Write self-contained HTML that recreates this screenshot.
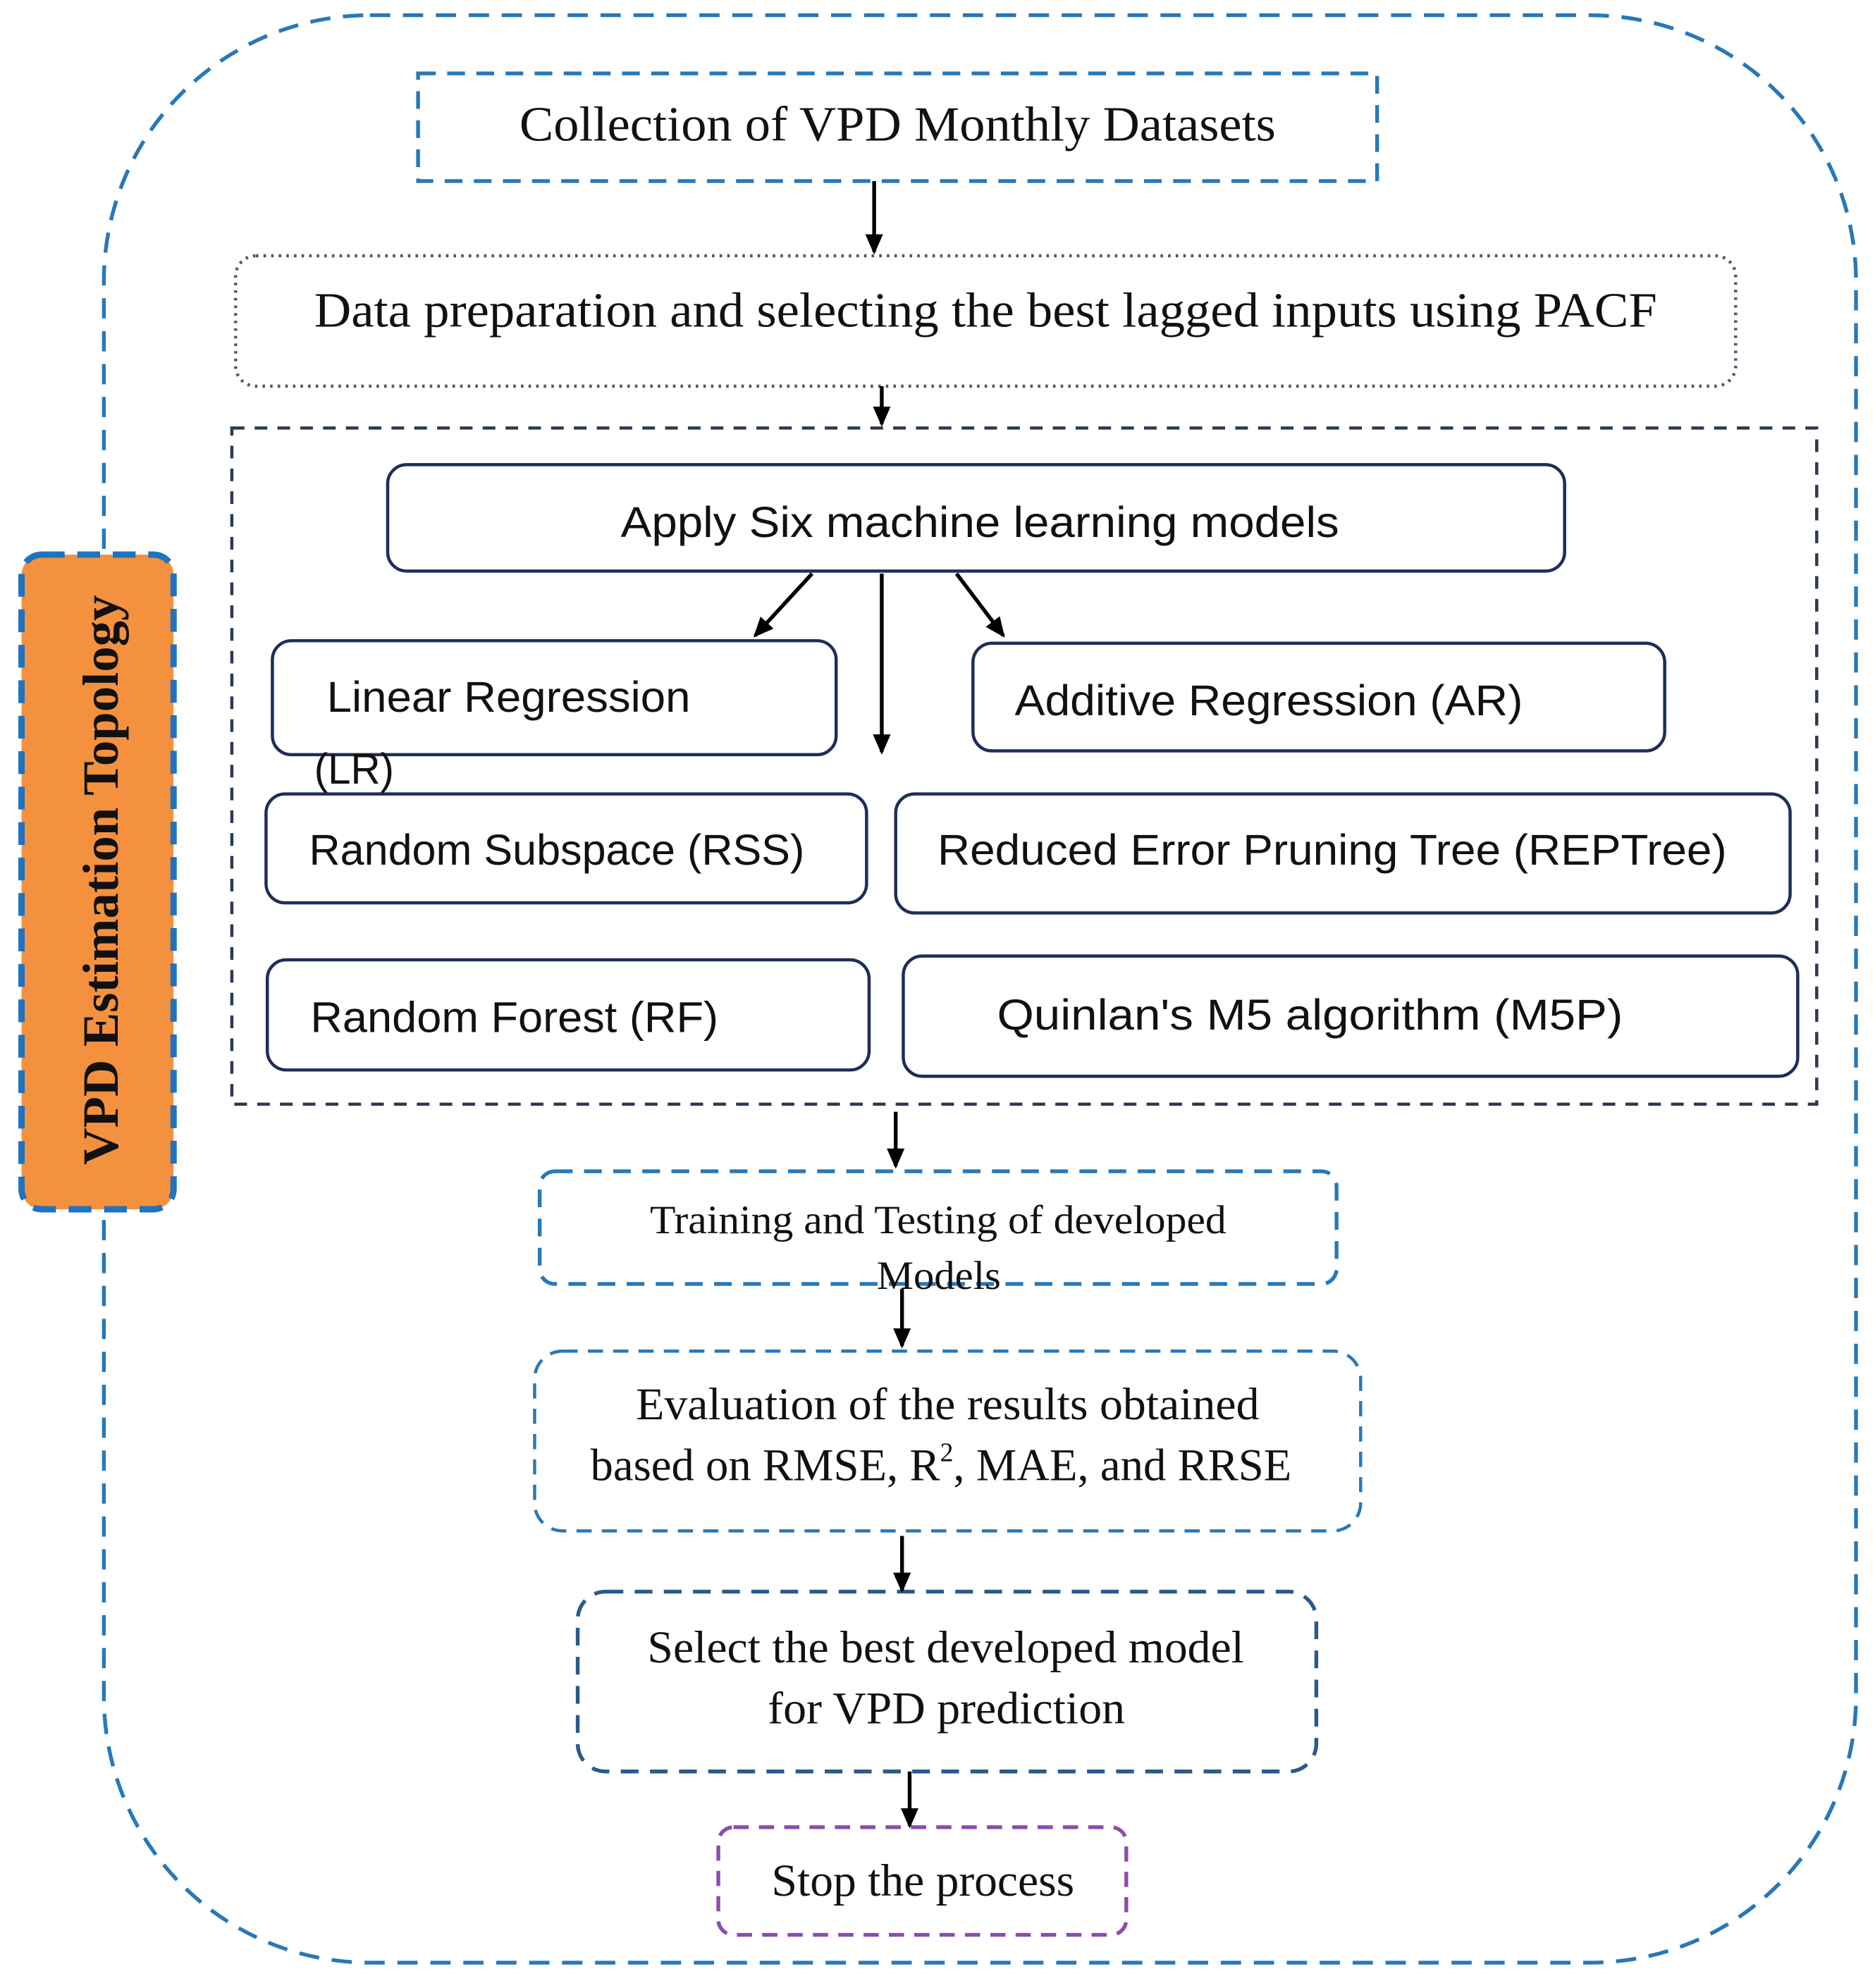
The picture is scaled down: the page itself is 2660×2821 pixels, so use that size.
<!DOCTYPE html>
<html><head><meta charset="utf-8"><style>html,body{margin:0;padding:0;background:#fff}svg{display:block}</style></head>
<body>
<svg width="2660" height="2821" viewBox="0 0 1480 1570" preserveAspectRatio="none" xmlns="http://www.w3.org/2000/svg">
<defs><marker id="b" markerWidth="16" markerHeight="14" refX="14" refY="7" orient="auto" markerUnits="userSpaceOnUse"><path d="M0,0 L16,7 L0,14 z" fill="#000"/></marker></defs>
<rect x="82" y="12" width="1383" height="1538" rx="210" fill="none" stroke="#2878b8" stroke-width="3" stroke-dasharray="16,10"/>
<rect x="17" y="438" width="120" height="517" rx="16" fill="#f4913f" stroke="#1f73c0" stroke-width="5" stroke-dasharray="18,10"/>
<text transform="translate(93,920) rotate(-90)" textLength="450" lengthAdjust="spacingAndGlyphs" font-family="Liberation Serif,serif" font-weight="bold" font-size="40" fill="#111">VPD Estimation Topology</text>
<g font-family="Liberation Serif,serif" fill="#111" lengthAdjust="spacingAndGlyphs">
<rect x="330" y="58" width="757" height="85" fill="none" stroke="#2878b8" stroke-width="3" stroke-dasharray="14,9"/>
<text x="410" y="111" font-size="39" textLength="597" lengthAdjust="spacingAndGlyphs">Collection of VPD Monthly Datasets</text>
<rect x="186" y="202" width="1184" height="103" rx="16" fill="none" stroke="#4a5a70" stroke-width="2.5" stroke-dasharray="2,4"/>
<text x="248" y="258" font-size="39" textLength="1060" lengthAdjust="spacingAndGlyphs">Data preparation and selecting the best lagged inputs using PACF</text>
<rect x="426" y="925" width="629" height="89" rx="12" fill="none" stroke="#2878b8" stroke-width="3" stroke-dasharray="14,9"/>
<text x="513" y="974" font-size="32" textLength="455" lengthAdjust="spacingAndGlyphs">Training and Testing of developed</text>
<text x="692" y="1018" font-size="32" textLength="98" lengthAdjust="spacingAndGlyphs">Models</text>
<rect x="422" y="1067" width="652" height="142" rx="22" fill="none" stroke="#2878b8" stroke-width="2.5" stroke-dasharray="12,8"/>
<text x="502" y="1121" font-size="36" textLength="492" lengthAdjust="spacingAndGlyphs">Evaluation of the results obtained</text>
<text x="466" y="1169" font-size="36">based on RMSE, R<tspan font-size="21" dy="-15">2</tspan><tspan dy="15">, MAE, and RRSE</tspan></text>
<rect x="456" y="1257" width="583" height="142" rx="22" fill="none" stroke="#2a5a8a" stroke-width="3" stroke-dasharray="14,9"/>
<text x="511" y="1313" font-size="36" textLength="471" lengthAdjust="spacingAndGlyphs">Select the best developed model</text>
<text x="606" y="1361" font-size="36" textLength="282" lengthAdjust="spacingAndGlyphs">for VPD prediction</text>
<rect x="567" y="1443" width="322" height="85" rx="12" fill="none" stroke="#8a4cae" stroke-width="3" stroke-dasharray="12,8"/>
<text x="609" y="1497" font-size="36" textLength="239" lengthAdjust="spacingAndGlyphs">Stop the process</text>
</g>
<rect x="183" y="338" width="1251" height="534" fill="none" stroke="#2b3a55" stroke-width="2.5" stroke-dasharray="10,8"/>
<g fill="none" stroke="#1f2d5a" stroke-width="2.5">
<rect x="306" y="367" width="929" height="84" rx="15"/>
<rect x="215" y="506" width="445" height="90" rx="15"/>
<rect x="768" y="508" width="546" height="85" rx="15"/>
<rect x="210" y="627" width="474" height="86" rx="15"/>
<rect x="707" y="627" width="706" height="94" rx="15"/>
<rect x="211" y="758" width="475" height="87" rx="15"/>
<rect x="713" y="755" width="706" height="95" rx="15"/>
</g>
<g font-family="Liberation Sans,sans-serif" font-size="34" fill="#111">
<text x="490" y="424" textLength="567" lengthAdjust="spacingAndGlyphs">Apply Six machine learning models</text>
<text x="258" y="562" textLength="287" lengthAdjust="spacingAndGlyphs">Linear Regression</text>
<text x="248" y="619" textLength="63" lengthAdjust="spacingAndGlyphs">(LR)</text>
<text x="801" y="565" textLength="401" lengthAdjust="spacingAndGlyphs">Additive Regression (AR)</text>
<text x="244" y="683" textLength="391" lengthAdjust="spacingAndGlyphs">Random Subspace (RSS)</text>
<text x="740" y="683" textLength="623" lengthAdjust="spacingAndGlyphs">Reduced Error Pruning Tree (REPTree)</text>
<text x="245" y="815" textLength="322" lengthAdjust="spacingAndGlyphs">Random Forest (RF)</text>
<text x="787" y="813" textLength="494" lengthAdjust="spacingAndGlyphs">Quinlan's M5 algorithm (M5P)</text>
</g>
<g stroke="#000" stroke-width="3" marker-end="url(#b)">
<line x1="690" y1="143" x2="690" y2="199"/>
<line x1="696" y1="305" x2="696" y2="335"/>
<line x1="641" y1="453" x2="596" y2="502"/>
<line x1="696" y1="453" x2="696" y2="594"/>
<line x1="755" y1="453" x2="792" y2="502"/>
<line x1="707" y1="878" x2="707" y2="921"/>
<line x1="712" y1="1018" x2="712" y2="1063"/>
<line x1="712" y1="1213" x2="712" y2="1256"/>
<line x1="718" y1="1399" x2="718" y2="1442"/>
</g>
</svg>
</body></html>
